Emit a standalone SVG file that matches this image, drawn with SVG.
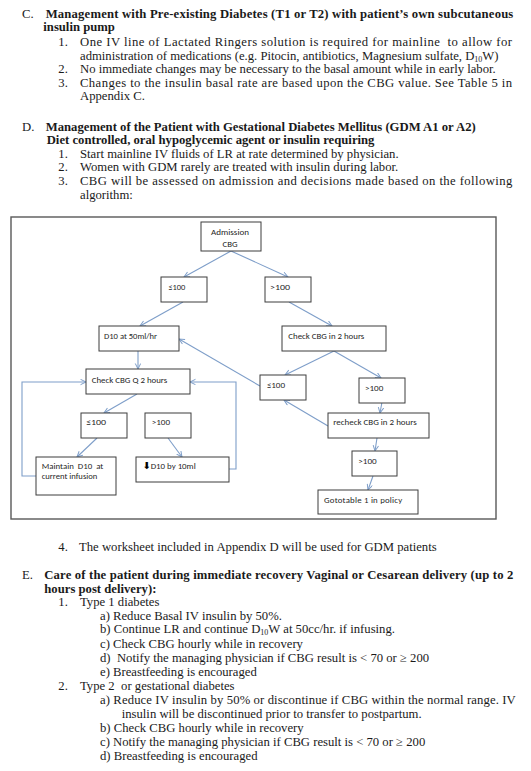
<svg xmlns="http://www.w3.org/2000/svg" width="531" height="771" viewBox="0 0 531 771">
<defs>
<style>
.t{font-family:"Liberation Serif","Times New Roman",serif;font-size:12.7px;fill:#1a1a1a}
.b{font-weight:bold}
.n{font-family:Carlito,"Liberation Sans",Arial,sans-serif;font-size:8.8px;fill:#262626}
.box{fill:#fff;stroke:#3d3d3d;stroke-width:1}
.c{fill:none;stroke:#7e9ec9;stroke-width:1.1;marker-end:url(#a)}
.sub{font-size:8px}
</style>
<marker id="a" markerWidth="8" markerHeight="8" refX="6" refY="3" orient="auto" markerUnits="userSpaceOnUse">
<path d="M0.5,0.3 L6,3 L0.5,5.7" fill="none" stroke="#7e9ec9" stroke-width="1"/>
</marker>
</defs>
<rect width="531" height="771" fill="#fff"/>

<g id="section-c">
<text class="t" x="22" y="17.7">C.</text>
<text class="t b" x="45.7" y="17.7" textLength="467.6" lengthAdjust="spacing">Management with Pre-existing Diabetes (T1 or T2) with patient’s own subcutaneous</text>
<text class="t b" x="43.3" y="31">insulin pump</text>
<text class="t" x="58.3" y="46">1.</text>
<text class="t" x="80" y="46" textLength="432" lengthAdjust="spacing" xml:space="preserve">One IV line of Lactated Ringers solution is required for mainline  to allow for</text>
<text class="t" x="80" y="59.5">administration of medications (e.g. Pitocin, antibiotics, Magnesium sulfate, D<tspan class="sub" dy="2">10</tspan><tspan dy="-2">W)</tspan></text>
<text class="t" x="58.3" y="73">2.</text>
<text class="t" x="80" y="73">No immediate changes may be necessary to the basal amount while in early labor.</text>
<text class="t" x="58.3" y="86.5">3.</text>
<text class="t" x="80" y="86.5" textLength="432" lengthAdjust="spacing">Changes to the insulin basal rate are based upon the CBG value. See Table 5 in</text>
<text class="t" x="80" y="100">Appendix C.</text>
</g>

<g id="section-d">
<text class="t" x="22" y="131">D.</text>
<text class="t b" x="45.7" y="131">Management of the Patient with Gestational Diabetes Mellitus (GDM A1 or A2)</text>
<text class="t b" x="46.7" y="143.5">Diet controlled, oral hypoglycemic agent or insulin requiring</text>
<text class="t" x="58.3" y="157.5">1.</text>
<text class="t" x="80" y="157.5">Start mainline IV fluids of LR at rate determined by physician.</text>
<text class="t" x="58.3" y="171">2.</text>
<text class="t" x="80" y="171">Women with GDM rarely are treated with insulin during labor.</text>
<text class="t" x="58.3" y="185">3.</text>
<text class="t" x="80" y="185" textLength="432.3" lengthAdjust="spacing">CBG will be assessed on admission and decisions made based on the following</text>
<text class="t" x="80" y="198.5">algorithm:</text>
</g>

<rect id="frame" x="11" y="217" width="485" height="302" fill="none" stroke="#595959" stroke-width="1.4"/>

<g id="connectors">
<path class="c" d="M231,251 L184,277"/>
<path class="c" d="M231,251 L288,277"/>
<path class="c" d="M183,302 L140,326"/>
<path class="c" d="M289,302 L332,326"/>
<path class="c" d="M138,351 L138,369"/>
<path class="c" d="M137,394 L104,413"/>
<path class="c" d="M97,438 L77,457"/>
<path class="c" d="M168,438 L182,457"/>
<path class="c" d="M36,476 L22,476 L22,382 L86,382"/>
<path class="c" d="M229,469 L236,469 L236,382 L190,382"/>
<path class="c" d="M334,351 L285,375"/>
<path class="c" d="M334,351 L381,378"/>
<path class="c" d="M382,402 L380,413"/>
<path class="c" d="M328,426 L284,400"/>
<path class="c" d="M377,438 L375,451"/>
<path class="c" d="M373,476 L368,490"/>
<path class="c" d="M260,386 L179,339"/>
</g>

<g id="admission">
<rect class="box" x="201" y="222" width="60" height="29"/>
<text class="n" x="211" y="235" textLength="38" lengthAdjust="spacingAndGlyphs">Admission</text>
<text class="n" x="222.5" y="246.5" textLength="15" lengthAdjust="spacingAndGlyphs">CBG</text>
</g>
<g id="le100-a">
<rect class="box" x="161" y="277" width="46" height="25"/>
<text class="n" x="168.3" y="290" textLength="17" lengthAdjust="spacingAndGlyphs">≤100</text>
</g>
<g id="gt100-a">
<rect class="box" x="265" y="277" width="46" height="25"/>
<text class="n" x="270" y="289.5" textLength="20" lengthAdjust="spacingAndGlyphs">&gt;100</text>
</g>
<g id="d10">
<rect class="box" x="99" y="326" width="80" height="25"/>
<text class="n" x="104" y="339" textLength="53" lengthAdjust="spacingAndGlyphs">D10 at 50ml/hr</text>
</g>
<g id="check-q2">
<rect class="box" x="86" y="369" width="104" height="25"/>
<text class="n" x="91.7" y="383.3" textLength="75.6" lengthAdjust="spacingAndGlyphs">Check CBG Q 2 hours</text>
</g>
<g id="le100-b">
<rect class="box" x="81" y="413" width="46" height="25"/>
<text class="n" x="86" y="425.3" textLength="20" lengthAdjust="spacingAndGlyphs">≤100</text>
</g>
<g id="gt100-b">
<rect class="box" x="145" y="413" width="46" height="25"/>
<text class="n" x="151.7" y="425.3" textLength="18.3" lengthAdjust="spacingAndGlyphs">&gt;100</text>
</g>
<g id="maintain">
<rect class="box" x="36" y="457" width="80" height="38"/>
<text class="n" x="41.7" y="469" textLength="61.6" lengthAdjust="spacing" xml:space="preserve">Maintain  D10  at</text>
<text class="n" x="41.7" y="478.7" textLength="55.6" lengthAdjust="spacingAndGlyphs">current infusion</text>
</g>
<g id="decrease">
<rect class="box" x="136" y="457" width="93" height="25"/>
<text class="n" x="142.7" y="469" textLength="53" lengthAdjust="spacingAndGlyphs"><tspan style="font-family:'DejaVu Sans',sans-serif;font-weight:bold;font-size:9.5px;fill:#000">⬇</tspan>D10 by 10ml</text>
</g>
<g id="check-2h">
<rect class="box" x="282" y="326" width="104" height="25"/>
<text class="n" x="288.3" y="338.7" textLength="76" lengthAdjust="spacingAndGlyphs">Check CBG in 2 hours</text>
</g>
<g id="le100-c">
<rect class="box" x="260" y="375" width="46" height="25"/>
<text class="n" x="266.7" y="387.7" textLength="18.3" lengthAdjust="spacingAndGlyphs">≤100</text>
</g>
<g id="gt100-c">
<rect class="box" x="359" y="378" width="46" height="25"/>
<text class="n" x="365" y="390.7" textLength="18.3" lengthAdjust="spacingAndGlyphs">&gt;100</text>
</g>
<g id="recheck">
<rect class="box" x="328" y="413" width="101" height="25"/>
<text class="n" x="333.3" y="425.3" textLength="83.4" lengthAdjust="spacingAndGlyphs">recheck CBG in 2 hours</text>
</g>
<g id="gt100-d">
<rect class="box" x="352" y="451" width="45" height="25"/>
<text class="n" x="358.3" y="464" textLength="18.4" lengthAdjust="spacingAndGlyphs">&gt;100</text>
</g>
<g id="goto">
<rect class="box" x="318" y="490" width="100" height="24"/>
<text class="n" x="324" y="502.7" textLength="78.3" lengthAdjust="spacing">Gototable 1 in policy</text>
</g>

<g id="section-d4">
<text class="t" x="58.3" y="550.7">4.</text>
<text class="t" x="79" y="550.7">The worksheet included in Appendix D will be used for GDM patients</text>
</g>

<g id="section-e">
<text class="t" x="22" y="579.3">E.</text>
<text class="t b" x="44.3" y="579.3" textLength="469" lengthAdjust="spacing">Care of the patient during immediate recovery Vaginal or Cesarean delivery (up to 2</text>
<text class="t b" x="44.3" y="592.7">hours post delivery):</text>
<text class="t" x="58.3" y="606">1.</text>
<text class="t" x="80" y="606">Type 1 diabetes</text>
<text class="t" x="100" y="619.5">a) Reduce Basal IV insulin by 50%.</text>
<text class="t" x="100" y="633">b) Continue LR and continue D<tspan class="sub" dy="2">10</tspan><tspan dy="-2">W at 50cc/hr. if infusing.</tspan></text>
<text class="t" x="100" y="648">c) Check CBG hourly while in recovery</text>
<text class="t" x="100" y="662" xml:space="preserve">d)  Notify the managing physician if CBG result is &lt; 70 or ≥ 200</text>
<text class="t" x="100" y="676">e) Breastfeeding is encouraged</text>
<text class="t" x="58.3" y="690">2.</text>
<text class="t" x="80" y="690" xml:space="preserve">Type 2  or gestational diabetes</text>
<text class="t" x="100" y="704" textLength="415.7" lengthAdjust="spacing">a) Reduce IV insulin by 50% or discontinue if CBG within the normal range. IV</text>
<text class="t" x="121.7" y="718">insulin will be discontinued prior to transfer to postpartum.</text>
<text class="t" x="100" y="732">b) Check CBG hourly while in recovery</text>
<text class="t" x="100" y="746">c) Notify the managing physician if CBG result is &lt; 70 or ≥ 200</text>
<text class="t" x="100" y="760">d) Breastfeeding is encouraged</text>
</g>
</svg>
